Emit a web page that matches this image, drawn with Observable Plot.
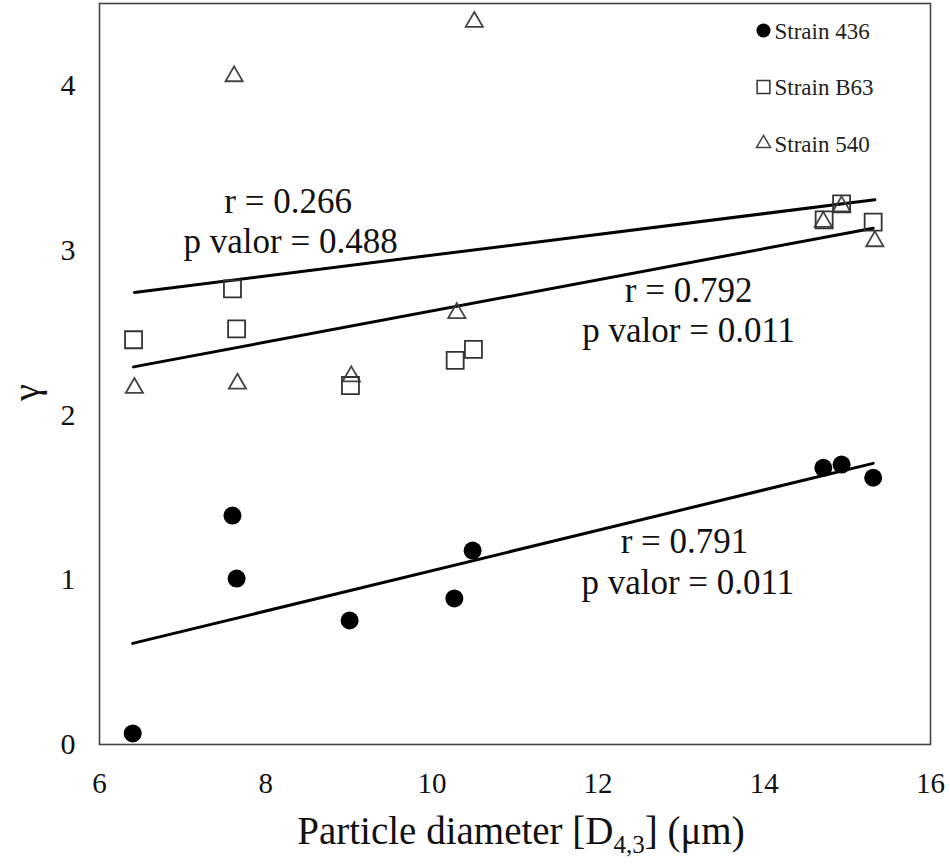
<!DOCTYPE html>
<html>
<head>
<meta charset="utf-8">
<script src="https://cdn.jsdelivr.net/npm/d3@7"></script>
<script src="https://cdn.jsdelivr.net/npm/@observablehq/plot@0.6"></script>
<style>
  html, body { margin: 0; padding: 0; background: #fff; }
</style>
</head>
<body>
<div id="chart"></div>
<script>
// ---- data ----
const xTicks = [6, 8, 10, 12, 14, 16];
const yTicks = [0, 1, 2, 3, 4];

const x436 = [6.40, 7.60, 7.65, 9.01, 10.27, 10.49, 14.71, 14.93, 15.31];
const y436 = [0.067, 1.39, 1.008, 0.753, 0.887, 1.178, 1.68, 1.70, 1.62];

const xB63 = [6.41, 7.60, 7.65, 9.02, 10.28, 10.50, 14.72, 14.93, 15.31];
const yB63 = [2.458, 2.767, 2.524, 2.180, 2.333, 2.400, 3.186, 3.283, 3.172];

const x540 = [6.42, 7.62, 7.66, 9.03, 10.30, 10.51, 14.71, 14.93, 15.33];
const y540 = [2.165, 4.058, 2.191, 2.236, 2.620, 4.388, 3.174, 3.268, 3.056];

const legendLabels = ["Strain 436", "Strain B63", "Strain 540"];
const legendSymbols = ["circle", "square", "triangle"];

const annotations = [
  {x: 8.27, y: 3.295, text: "r = 0.266"},
  {x: 8.30, y: 3.052, text: "p valor = 0.488"},
  {x: 13.09, y: 2.754, text: "r = 0.792"},
  {x: 13.09, y: 2.511, text: "p valor = 0.011"},
  {x: 13.04, y: 1.228, text: "r = 0.791"},
  {x: 13.08, y: 0.985, text: "p valor = 0.011"}
];

const xTitle = "Particle diameter [D4,3] (μm)";
const yTitle = "γ";

// ---- build tables ----
const d436 = x436.map((x, i) => ({x, y: y436[i]}));
const dB63 = xB63.map((x, i) => ({x, y: yB63[i]}));
const d540 = x540.map((x, i) => ({x, y: y540[i]}));

const serif = "'Liberation Serif', 'Times New Roman', Times, serif";

const legendStyles = [
  {fill: "#000", stroke: "none", r: 7},
  {fill: "none", stroke: "#333", strokeWidth: 1.5, r: 7.2},
  {fill: "none", stroke: "#444", strokeWidth: 1.5, r: 5.2}
];

const legendMarks = legendLabels.flatMap((label, i) => [
  Plot.dot([label], {
    frameAnchor: "top-right", dx: -167, dy: 27 + i * 56.5,
    symbol: legendSymbols[i], ...legendStyles[i]
  }),
  Plot.text([label], {
    frameAnchor: "top-right", dx: -156, dy: 28 + i * 56.5,
    text: d => d, textAnchor: "start", lineAnchor: "middle",
    fontSize: 23, fontFamily: serif, fill: "#222"
  })
]);

const chart = Plot.plot({
  width: 950,
  height: 866,
  marginLeft: 99,
  marginRight: 20,
  marginTop: 3,
  marginBottom: 122,
  x: {domain: [6, 16]},
  y: {domain: [0, 4.5]},
  style: {fontFamily: serif, fontSize: "29px", color: "#111", background: "#fff"},
  marks: [
    Plot.frame({stroke: "#444", strokeWidth: 1.6}),
    Plot.axisX({ticks: xTicks, tickFormat: d => String(d), tickSize: 0, tickPadding: 28, fontSize: 29, label: null}),
    Plot.axisY({ticks: yTicks, tickFormat: d => String(d), tickSize: 0, tickPadding: 24, fontSize: 30, label: null}),
    Plot.linearRegressionY(d540, {x: "x", y: "y", stroke: "#000", strokeWidth: 3, ci: 0}),
    Plot.linearRegressionY(dB63, {x: "x", y: "y", stroke: "#000", strokeWidth: 3, ci: 0}),
    Plot.linearRegressionY(d436, {x: "x", y: "y", stroke: "#000", strokeWidth: 3, ci: 0}),
    Plot.dot(d540, {x: "x", y: "y", symbol: "triangle", r: 6.4, fill: "none", stroke: "#444", strokeWidth: 1.8}),
    Plot.dot(dB63, {x: "x", y: "y", symbol: "square", r: 9.6, fill: "none", stroke: "#333", strokeWidth: 1.8}),
    Plot.dot(d436, {x: "x", y: "y", symbol: "circle", r: 9, fill: "#000"}),
    Plot.text(annotations, {x: "x", y: "y", text: "text", fontSize: 35, fontFamily: serif, fill: "#111", lineAnchor: "middle"}),
    ...legendMarks,
    Plot.text([xTitle], {frameAnchor: "bottom", dx: 6, dy: 87, text: d => d, fontSize: 39, fontFamily: serif, fill: "#111", lineAnchor: "middle"}),
    Plot.text([yTitle], {frameAnchor: "left", dx: -73, dy: 27, rotate: -90, text: d => d, fontSize: 38, fontFamily: serif, fill: "#111", lineAnchor: "middle"})
  ]
});

// subscript for D4,3
d3.select(chart).selectAll("text").filter(function () {
  return this.textContent === xTitle;
}).each(function () {
  const t = d3.select(this);
  t.text(null);
  t.append("tspan").text("Particle diameter [D");
  t.append("tspan").attr("dy", 9).attr("font-size", 25).text("4,3");
  t.append("tspan").attr("dy", -9).text("] (μm)");
});

document.getElementById("chart").appendChild(chart);
</script>
</body>
</html>
